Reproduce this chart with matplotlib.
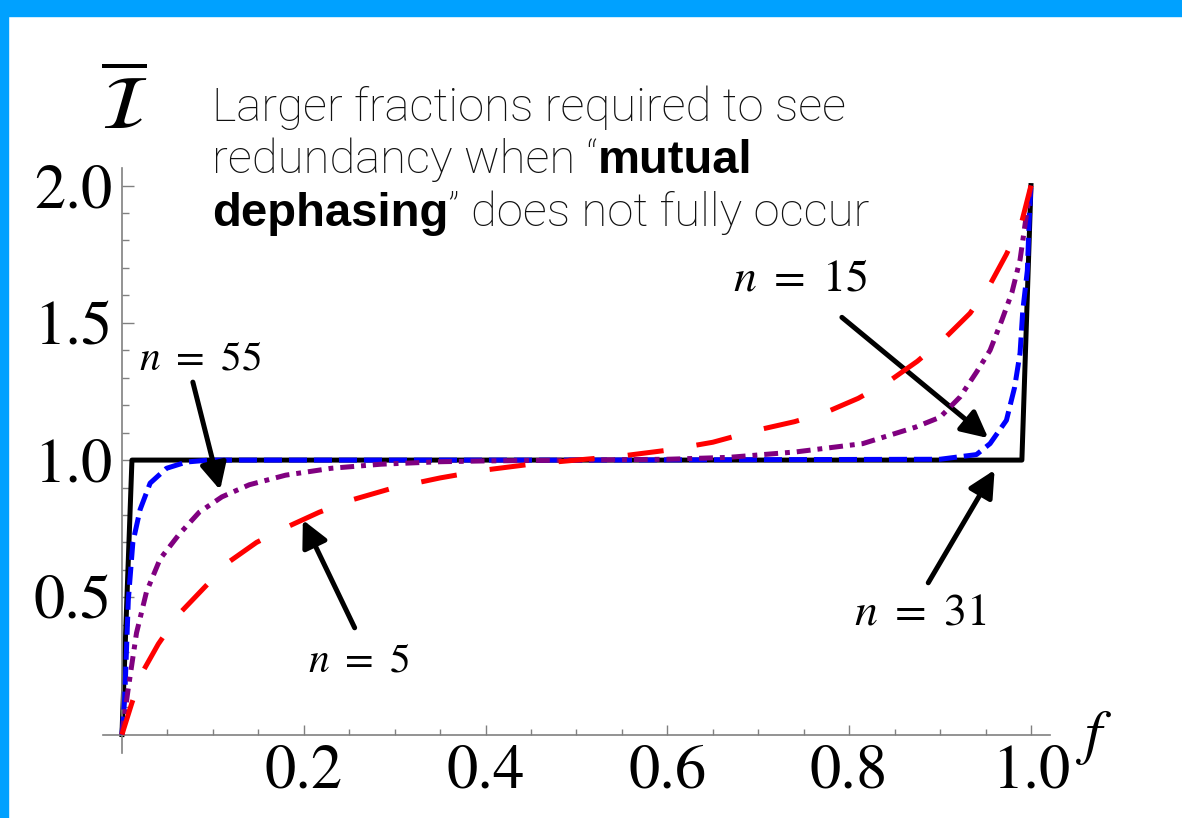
import matplotlib
matplotlib.use('Agg')
import matplotlib.pyplot as plt
from matplotlib.patches import Rectangle
from matplotlib.ticker import FixedLocator

# values
f_step = [0, 0.011, 0.99, 1.0]
i_step = [0, 1.0, 1.0, 2.0]

f_n5 = [0, 0.011, 0.023, 0.04, 0.063, 0.089, 0.118, 0.148, 0.184, 0.217, 0.253, 0.3, 0.35,
        0.4, 0.45, 0.5, 0.55, 0.6, 0.65, 0.7, 0.74, 0.775, 0.81, 0.845, 0.875, 0.907,
        0.933, 0.955, 0.973, 0.99, 1.0]
i_n5 = [0, 0.116, 0.23, 0.33, 0.44, 0.53, 0.63, 0.70, 0.76, 0.81, 0.855, 0.90, 0.935,
        0.964, 0.985, 1.0, 1.015, 1.036, 1.065, 1.11, 1.14, 1.175, 1.225, 1.29, 1.36, 1.45,
        1.535, 1.64, 1.75, 1.87, 2.0]

f_n15 = [0, 0.0066, 0.016, 0.027, 0.042, 0.063, 0.085, 0.11, 0.14, 0.18, 0.23, 0.285, 0.35,
         0.4, 0.5, 0.6, 0.668, 0.742, 0.815, 0.873, 0.9, 0.922, 0.94, 0.955, 0.968, 0.979,
         0.988, 0.994, 1.0]
i_n15 = [0, 0.16, 0.37, 0.52, 0.64, 0.73, 0.81, 0.866, 0.91, 0.945, 0.97, 0.985, 0.994,
         0.997, 1.0, 1.003, 1.01, 1.03, 1.06, 1.12, 1.156, 1.23, 1.32, 1.40, 1.51, 1.61,
         1.73, 1.87, 2.0]

f_n31 = [0, 0.003, 0.007, 0.012, 0.02, 0.031, 0.049, 0.071, 0.096, 0.5, 0.9, 0.94, 0.955,
         0.973, 0.982, 0.988, 0.991, 0.996, 0.998, 1.0]
i_n31 = [0, 0.13, 0.49, 0.70, 0.82, 0.916, 0.97, 0.993, 1.0, 1.0, 1.003, 1.02, 1.06,
         1.145, 1.265, 1.39, 1.545, 1.69, 1.87, 2.0]

x_major = [0.2, 0.4, 0.6, 0.8, 1.0]
x_labels = ['0.2', '0.4', '0.6', '0.8', '1.0']
x_minor = [0.05 * k for k in range(1, 20)]
y_major = [0.5, 1.0, 1.5, 2.0]
y_labels = ['0.5', '1.0', '1.5', '2.0']
y_minor = [0.1 * k for k in range(1, 20)]

plt.rcParams['mathtext.fontset'] = 'stix'
plt.rcParams['lines.scale_dashes'] = False

fig = plt.figure(figsize=(11.82, 8.18), dpi=100)
ax = fig.add_axes([0.0871, 0.0795, 0.8012, 0.7151])

# blue frame of the slide
fig.patches.append(Rectangle((0, 1 - 16 / 818), 1, 16 / 818, transform=fig.transFigure,
                             color='#00A1FF', zorder=0))
fig.patches.append(Rectangle((0, 0), 8 / 1182, 1, transform=fig.transFigure,
                             color='#00A1FF', zorder=0))

ax.plot(f_step, i_step, color='black', lw=3.6, zorder=2)
ax.plot(f_n31, i_n31, color='#0000FF', lw=3.6, ls=(0, (13, 5)), zorder=3)
ax.plot(f_n15, i_n15, color='#800080', lw=3.6, ls=(0, (10, 5, 3.5, 5)), zorder=4)
ax.plot(f_n5, i_n5, color='#FF0000', lw=3.6, ls=(0, (26, 24)), zorder=5)

ax.set_xlim(-0.0209, 1.0209)
ax.set_ylim(-0.067, 2.064)
for s in ['top', 'right']:
    ax.spines[s].set_visible(False)
for s in ['left', 'bottom']:
    ax.spines[s].set_position(('data', 0))
    ax.spines[s].set_color('#808080')
    ax.spines[s].set_linewidth(1.2)

ax.xaxis.set_major_locator(FixedLocator(x_major))
ax.xaxis.set_minor_locator(FixedLocator(x_minor))
ax.yaxis.set_major_locator(FixedLocator(y_major))
ax.yaxis.set_minor_locator(FixedLocator(y_minor))
ax.set_xticklabels(x_labels)
ax.set_yticklabels(y_labels)
ax.tick_params(axis='x', which='major', direction='in', length=7.5, width=1, color='#808080',
               labelsize=45, pad=7)
ax.tick_params(axis='x', which='minor', direction='in', length=4.5, width=1, color='#808080')
ax.tick_params(axis='y', which='major', direction='in', length=8.5, width=1, color='#808080',
               labelsize=45, pad=7)
ax.tick_params(axis='y', which='minor', direction='in', length=5, width=1, color='#808080')
for lab in ax.get_xticklabels() + ax.get_yticklabels():
    lab.set_fontfamily('STIXGeneral')

ax.text(0.002, 2.28, r'$\overline{\mathcal{I}}$', fontsize=54, ha='center', va='center',
        clip_on=False)
ax.text(1.07, -0.01, r'$f$', fontsize=44, ha='center', va='center', clip_on=False)

arrow = dict(arrowstyle='-|>', lw=3.6, color='black', mutation_scale=40,
             shrinkA=0, shrinkB=0)
ax.text(0.086, 1.375, r'$n\ =\ 55$', fontsize=30, ha='center', va='center')
ax.annotate('', xy=(0.108, 0.891), xytext=(0.078, 1.284), arrowprops=arrow)
ax.text(0.26, 0.273, r'$n\ =\ 5$', fontsize=30, ha='center', va='center')
ax.annotate('', xy=(0.199, 0.782), xytext=(0.256, 0.389), arrowprops=arrow)
ax.text(0.746, 1.662, r'$n\ =\ 15$', fontsize=33, ha='center', va='center')
ax.annotate('', xy=(0.953, 1.08), xytext=(0.792, 1.52), arrowprops=arrow)
ax.text(0.878, 0.447, r'$n\ =\ 31$', fontsize=33, ha='center', va='center')
ax.annotate('', xy=(0.960, 0.964), xytext=(0.887, 0.553), arrowprops=arrow)

# note text, light with bold words
note_size = 34
light = dict(fontsize=note_size, family='Roboto', fontweight='light', va='baseline',
             color='#111111')
bold = dict(fontsize=note_size, family='Liberation Sans', fontweight='bold', va='baseline',
            color='black')
x0 = 212 / 1182
fig.text(x0, 1 - 121 / 818, 'Larger fractions required to see', **light)
t2 = fig.text(x0, 1 - 173 / 818, 'redundancy when \u201c', **light)
t3 = fig.text(x0, 1 - 226 / 818, 'dephasing', **bold)
fig.canvas.draw()
r = fig.canvas.get_renderer()
fig.text(t2.get_window_extent(r).x1 / fig.bbox.width, 1 - 173 / 818, 'mutual', **bold)
fig.text(t3.get_window_extent(r).x1 / fig.bbox.width, 1 - 226 / 818,
         '\u201d does not fully occur', **light)

fig.savefig('out.png', dpi=100, facecolor='white')
